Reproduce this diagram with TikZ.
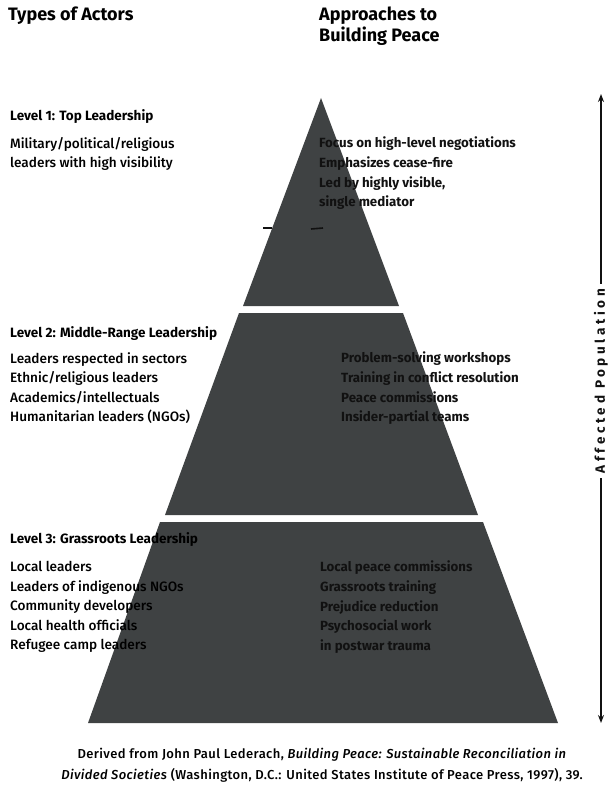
\documentclass[tikz,border=0pt]{standalone}
\usepackage{fontspec}
\setmainfont{Fira Sans}[UprightFont={* Medium}, BoldFont={* Bold}]
\usetikzlibrary{arrows.meta, positioning}
\definecolor{tierGray}{HTML}{3F4243}
\definecolor{inkBlack}{HTML}{111111}
\tikzset{
  tierFill/.style={fill=tierGray, draw=none},
  colHead/.style={anchor=north west, inner sep=0pt, align=left,
                  font=\fontsize{18}{20.5}\selectfont\bfseries},
  lvlHead/.style={anchor=north west, inner sep=0pt,
                  font=\fontsize{13.5}{15}\selectfont\bfseries},
  actorList/.style={anchor=north west, inner sep=0pt, align=left,
                    font=\fontsize{13.6}{19.6}\selectfont},
  approachList/.style={anchor=north west, inner sep=0pt, align=left, text=inkBlack,
                       font=\fontsize{13.3}{19.6}\selectfont\bfseries},
  popArrow/.style={-{Stealth[length=8pt, width=6pt]}, line width=1.3pt, inkBlack},
}

\begin{document}
\begin{tikzpicture}[x=1pt, y=-1pt]
    \useasboundingbox (0,0) rectangle (608,786);

    % column titles
    \node[colHead] (actorsHead) at (8,7) {Types of Actors};
    \node[colHead] (approachHead) at (319,7) {Approaches to\\Building Peace};

    % the three tiers
    \fill[tierFill] (321,98) -- (399,306) -- (243,306) -- cycle;
    \fill[tierFill] (239,313) -- (403,313) -- (478,515) -- (165,515) -- cycle;
    \fill[tierFill] (160,522) -- (483,522) -- (558,723) -- (88,723) -- cycle;

    % two short ticks in the top tier
    \draw[inkBlack, line width=1.6pt] (263,228) -- (272,228);
    \draw[inkBlack, line width=1.6pt] (311,229) -- (323,228);

    % level 1
    \node[lvlHead] (lvlOne) at (10,109) {Level 1: Top Leadership};
    \node[actorList] (actorsOne) at (10,137)
      {Military/political/religious\\leaders with high visibility};
    \node[approachList] (approachOne) at (319,137)
      {Focus on high-level negotiations\\Emphasizes cease-fire\\Led by highly visible,\\single mediator};

    % level 2
    \node[lvlHead] (lvlTwo) at (10,326) {Level 2: Middle-Range Leadership};
    \node[actorList] (actorsTwo) at (10,352)
      {Leaders respected in sectors\\Ethnic/religious leaders\\Academics/intellectuals\\Humanitarian leaders (NGOs)};
    \node[approachList] (approachTwo) at (341,352)
      {Problem-solving workshops\\Training in conflict resolution\\Peace commissions\\Insider-partial teams};

    % level 3
    \node[lvlHead] (lvlThree) at (10,532) {Level 3: Grassroots Leadership};
    \node[actorList] (actorsThree) at (10,561)
      {Local leaders\\Leaders of indigenous NGOs\\Community developers\\Local health officials\\Refugee camp leaders};
    \node[approachList] (approachThree) at (320,561)
      {Local peace commissions\\Grassroots training\\Prejudice reduction\\Psychosocial work\\in postwar trauma};

    % population axis on the right
    \coordinate (popTop) at (601,94);
    \coordinate (popBot) at (601,723);
    \node[rotate=90, inner sep=5pt, text=inkBlack,
          font=\fontsize{13.5}{15}\selectfont\bfseries\addfontfeature{LetterSpace=27}]
      (popLabel) at (601,381) {Affected Population};
    \draw[popArrow] (popLabel) -- (popTop);
    \draw[popArrow] (popLabel) -- (popBot);

    % source line
    \node[align=center, font=\fontsize{13}{21}\selectfont\addfontfeature{LetterSpace=3}]
      (source) at (322,765)
      {Derived from John Paul Lederach, \emph{Building Peace: Sustainable Reconciliation in}\\
       \emph{Divided Societies} (Washington, D.C.: United States Institute of Peace Press, 1997), 39.};
\end{tikzpicture}
\end{document}
